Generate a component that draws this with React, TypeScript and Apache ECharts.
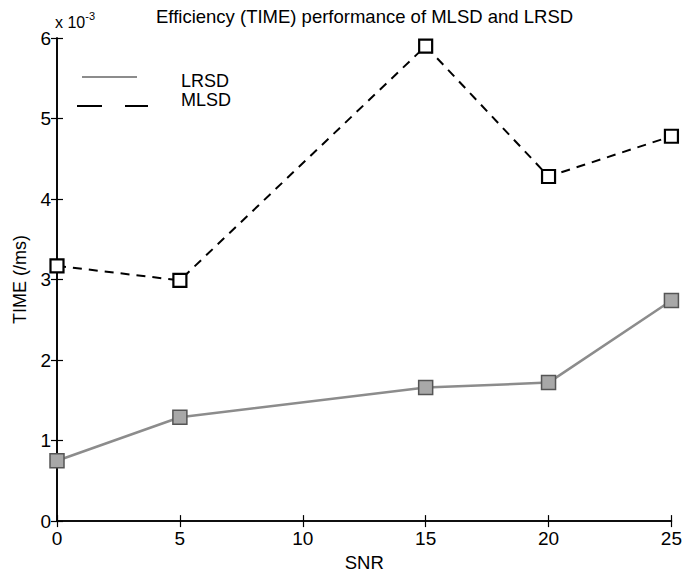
import React, { useEffect, useRef } from "react";
import * as echarts from "echarts";

const snr = [0, 5, 15, 20, 25];
const lrsd = [0.75, 1.29, 1.66, 1.72, 2.74];
const mlsd = [3.17, 2.99, 5.9, 4.28, 4.78];
const xTicks = [0, 5, 10, 15, 20, 25];
const yTicks = [0, 1, 2, 3, 4, 5, 6];
const titleText = "Efficiency (TIME) performance of MLSD and LRSD";
const legendNames = ["LRSD", "MLSD"];

const FONT = "'Liberation Sans', Arial, Helvetica, sans-serif";

export default function App() {
  const ref = useRef<HTMLDivElement>(null);
  useEffect(() => {
    document.body.style.margin = "0";
    if (!ref.current) return;
    const chart = echarts.init(ref.current, undefined, { renderer: "svg" });
    const axisLine = { show: true, lineStyle: { color: "#000", width: 1.6 } };
    const tick = { show: true, inside: true, length: 6, lineStyle: { color: "#000", width: 1.2 } };
    const xmin = xTicks[0], xmax = xTicks[xTicks.length - 1];
    const ymin = yTicks[0], ymax = yTicks[yTicks.length - 1];
    chart.setOption({
      animation: false,
      backgroundColor: "#fff",
      textStyle: { fontFamily: FONT },
      title: {
        text: titleText,
        left: 151,
        top: 2,
        textStyle: { fontFamily: FONT, fontSize: 18.5, fontWeight: "normal", color: "#000" },
      },
      grid: { left: 57, right: 13, top: 38, bottom: 53, containLabel: false },
      xAxis: [
        {
          type: "value", min: xmin, max: xmax, interval: 5, position: "bottom",
          axisLine, axisTick: tick, splitLine: { show: false },
          axisLabel: { color: "#000", fontSize: 19, margin: 8, fontFamily: FONT },
          name: "SNR", nameLocation: "middle", nameGap: 31,
          nameTextStyle: { color: "#000", fontSize: 18.5, fontFamily: FONT },
        },
        {
          type: "value", min: xmin, max: xmax, interval: 5, position: "top",
          axisLine, axisTick: tick, splitLine: { show: false }, axisLabel: { show: false },
        },
      ],
      yAxis: [
        {
          type: "value", min: ymin, max: ymax, interval: 1, position: "left",
          axisLine, axisTick: tick, splitLine: { show: false },
          axisLabel: { color: "#000", fontSize: 19, margin: 6, fontFamily: FONT },
          name: "TIME (/ms)", nameLocation: "middle", nameGap: 28,
          nameTextStyle: { color: "#000", fontSize: 18, fontFamily: FONT },
        },
        {
          type: "value", min: ymin, max: ymax, interval: 1, position: "right",
          axisLine, axisTick: tick, splitLine: { show: false }, axisLabel: { show: false },
        },
      ],
      series: [
        {
          name: legendNames[0], type: "line",
          data: snr.map((x, i) => [x, lrsd[i]]),
          symbol: "rect", symbolSize: 14,
          lineStyle: { color: "#8c8c8c", width: 2.5 },
          itemStyle: { color: "#a8a8a8", borderColor: "#555", borderWidth: 1.5 },
          z: 3,
        },
        {
          name: legendNames[1], type: "line",
          data: snr.map((x, i) => [x, mlsd[i]]),
          symbol: "rect", symbolSize: 13,
          lineStyle: { color: "#000", width: 2, type: [9, 7] },
          itemStyle: { color: "#fff", borderColor: "#000", borderWidth: 2.2 },
          z: 4,
        },
      ],
      graphic: [
        {
          type: "text", left: 55, top: 5,
          style: {
            text: "{a|x 10}{b|-3}",
            rich: {
              a: { fontSize: 16, fontFamily: FONT, fill: "#000", verticalAlign: "bottom", lineHeight: 20, padding: [9, 0, 0, 0] },
              b: { fontSize: 11, fontFamily: FONT, fill: "#000", verticalAlign: "top", lineHeight: 14 },
            },
          },
        },
        {
          type: "line",
          shape: { x1: 82, y1: 77, x2: 137, y2: 77 },
          style: { stroke: "#8c8c8c", lineWidth: 2 },
        },
        {
          type: "line",
          shape: { x1: 77, y1: 106, x2: 148, y2: 106 },
          style: { stroke: "#000", lineWidth: 2.2, lineDash: [25, 23] },
        },
        {
          type: "text", x: 181, y: 81,
          style: { text: legendNames[0], fontSize: 18, fontFamily: FONT, fill: "#000", textVerticalAlign: "middle" },
        },
        {
          type: "text", x: 181, y: 100,
          style: { text: legendNames[1], fontSize: 18, fontFamily: FONT, fill: "#000", textVerticalAlign: "middle" },
        },
      ],
    });
    return () => chart.dispose();
  }, []);
  return <div ref={ref} style={{ width: 685, height: 577 }} />;
}
